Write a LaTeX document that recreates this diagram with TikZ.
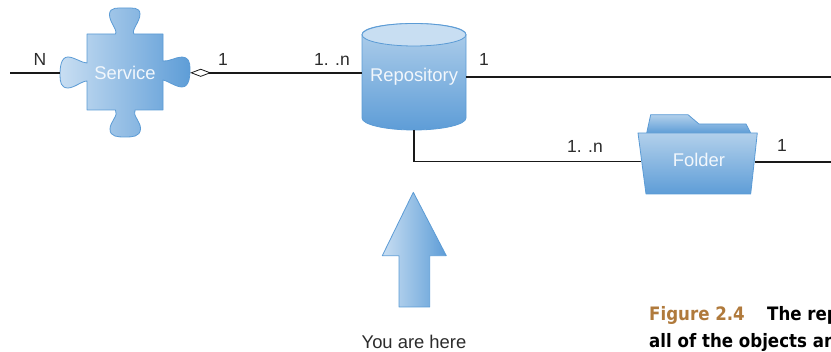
\documentclass[tikz,border=0pt]{standalone}
\usepackage{fontspec}
\setmainfont{Liberation Sans}
\newfontfamily\capfont{DejaVu Sans Condensed}
\usetikzlibrary{arrows.meta}
\definecolor{edgeblue}{HTML}{5B9BD5}
\definecolor{lightblue}{HTML}{C8DEF2}
\definecolor{midblue}{HTML}{B2D0EB}
\definecolor{darkblue}{HTML}{5E9DD7}
\definecolor{capbrown}{HTML}{B07A3C}
\definecolor{labeltext}{HTML}{2B2B2B}
\tikzset{
  shapeH/.style={draw=edgeblue,line width=0.8pt,line join=round,left color=lightblue,right color=darkblue},
  shapeV/.style={draw=edgeblue,line width=0.8pt,line join=round,top color=midblue,bottom color=darkblue},
  inlabel/.style={inner sep=0pt,text=white!92!edgeblue,font=\fontsize{18.4}{20}\selectfont},
  mult/.style={inner sep=0pt,text=labeltext,font=\fontsize{17.5}{20}\selectfont},
  heavy/.style={draw=black!90,line width=1.9pt},
  thin conn/.style={draw=black!90,line width=1.1pt},
  captext/.style={inner sep=0pt,anchor=base west,font=\capfont\bfseries\fontsize{18.5}{20}\selectfont}
}
\begin{document}
\begin{tikzpicture}[x=1pt,y=-1pt]
\useasboundingbox (0,0) rectangle (831,352);
% puzzle piece
\path[shapeH] (87,34) -- (115.5,34)
  .. controls (118,30) and (109,22) .. (109.5,14)
  .. controls (110,7) and (118,8) .. (125,8)
  .. controls (132,8) and (140,7) .. (140,14)
  .. controls (140,22) and (131,30) .. (134,34)
  -- (163,34) -- (163,61)
  .. controls (168,62) and (176,57) .. (182,57)
  .. controls (188,57) and (190,62) .. (190,68)
  .. controls (190,74) and (190,87) .. (182,87)
  .. controls (176,87) and (168,81) .. (163,80)
  -- (163,110) -- (135,110)
  .. controls (132,115) and (141,122) .. (140.5,129)
  .. controls (140,137) and (132,137) .. (125,137)
  .. controls (118,137) and (110,137) .. (110,129)
  .. controls (110,122) and (119,115) .. (115.5,110)
  -- (87,110) -- (87,81)
  .. controls (82,81) and (74,88) .. (68,88)
  .. controls (61,88) and (60,82) .. (60,75)
  .. controls (60,67) and (61,57) .. (68,57)
  .. controls (74,57) and (82,63) .. (87,63)
  -- cycle;
% cylinder
\path[shapeV] (362,34.5) -- (362,118)
  .. controls (362,124.5) and (385,130) .. (414,130)
  .. controls (443,130) and (466,124.5) .. (466,118)
  -- (466,34.5)
  .. controls (466,28) and (443,23.5) .. (414,23.5)
  .. controls (385,23.5) and (362,28) .. (362,34.5) -- cycle;
\path[draw=edgeblue,line width=0.8pt,fill=lightblue] (414,34.75) ellipse [x radius=52,y radius=11.25];
% folder
\path[shapeV] (646.7,133) -- (650.7,114.7) -- (688,114.7) -- (699,124) -- (746,124) -- (750.7,133) -- cycle;
\path[shapeV] (638,133) -- (757.3,133) -- (750.7,194) -- (646,194) -- cycle;
% up arrow
\path[shapeH] (413.3,192.3) -- (446.3,255.7) -- (429.7,255.7) -- (429.7,307) -- (399,307) -- (399,255.7) -- (382.3,255.7) -- cycle;
% nodes
\node[inlabel,minimum width=130pt,minimum height=129pt] (service) at (125,72.8) {Service};
\node[inlabel,minimum width=104pt,minimum height=106pt] (repo) at (414,76.8) {Repository};
\node[inlabel,minimum width=113pt,minimum height=20pt] (folder) at (698,161.7) {\hspace*{2pt}\raisebox{3pt}{Folder}};
\coordinate (leftend) at (10,73.3);
\coordinate (rightend) at (831,76.8);
\coordinate (folderend) at (831,161.7);
% connectors
\draw[heavy] (leftend) -- ([yshift=-0.5pt]service.west);
\draw[heavy,{Diamond[open,length=21pt,width=8pt,line width=0.8pt]}-] (service.east) -- ([yshift=4pt]repo.west);
\draw[heavy] (repo.east) -- (rightend);
\draw[thin conn] (repo.south) |- (folder.west);
\draw[heavy] (folder.east) -- (folderend);
% labels
\node[mult] (n1) at (40,59) {N};
\node[mult] (m1) at (223,59) {1};
\node[mult] (m2) at (332,59.5) {1. .n};
\node[mult] (m3) at (484,59) {1};
\node[mult] (m4) at (585,146) {1. .n};
\node[mult] (m5) at (782,145) {1};
\node[mult,font=\fontsize{18.4}{20}\selectfont] (here) at (414,342) {You are here};
% caption, cut by the page edge as in the reference
\begin{scope}
\clip (600,300) rectangle (831,352);
\node[captext,text=capbrown] (figno) at (649,321) {Figure 2.4};
\node[captext,text=black] (title) at (767,321) {The rep};
\node[captext,text=black] (line2) at (649,348) {all of the objects an};
\end{scope}
\end{tikzpicture}
\end{document}
